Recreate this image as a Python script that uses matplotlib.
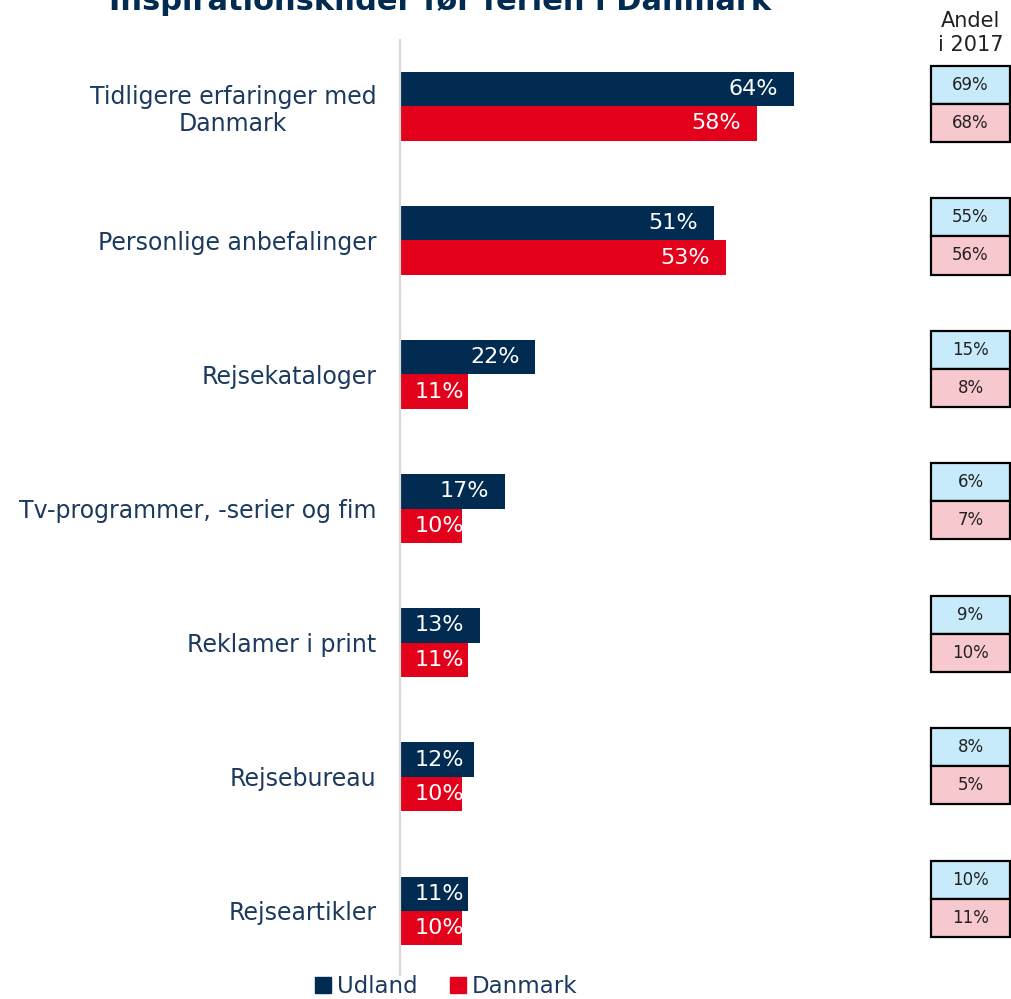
import matplotlib
matplotlib.use("Agg")
import matplotlib.pyplot as plt
from matplotlib.patches import Patch

# data
kategorier = ["Tidligere erfaringer med\nDanmark", "Personlige anbefalinger", "Rejsekataloger",
              "Tv-programmer, -serier og fim", "Reklamer i print", "Rejsebureau", "Rejseartikler"]
udland = [64, 51, 22, 17, 13, 12, 11]
danmark = [58, 53, 11, 10, 11, 10, 10]
udland_2017 = [69, 55, 15, 6, 9, 8, 10]
danmark_2017 = [68, 56, 8, 7, 10, 5, 11]

navy = "#012B50"
red = "#E3001A"
txt = "#1C3A5E"
lightblue = "#C7EBFA"
pink = "#F8C8CF"

fig = plt.figure(figsize=(10.12, 9.99), dpi=100)
W, H = 1012, 999

# main bar axes
ax = fig.add_axes([400 / W, 1 - 975 / H, 431 / W, 935 / H])
n = len(kategorier)
pos = list(range(n))
bh = 0.254
ax.barh([p - bh / 2 for p in pos], udland, height=bh, color=navy)
ax.barh([p + bh / 2 for p in pos], danmark, height=bh, color=red)
ax.set_xlim(0, 70)
ax.set_ylim(6.481, -0.496)

for p, u, d in zip(pos, udland, danmark):
    for v, y in ((u, p - bh / 2), (d, p + bh / 2)):
        if v - 2.6 < 9.5:
            ax.text(2.4, y, f"{v}%", ha="left", va="center", color="white", fontsize=16)
        else:
            ax.text(v - 2.6, y, f"{v}%", ha="right", va="center", color="white", fontsize=16)

ax.set_yticks(pos)
ax.set_yticklabels(kategorier, fontsize=17, color=txt, linespacing=1.15)
for lab in ax.get_yticklabels():
    lab.set_multialignment("center")
ax.tick_params(axis="y", length=0, pad=17)
ax.set_xticks([])
for s in ["top", "right", "bottom"]:
    ax.spines[s].set_visible(False)
ax.spines["left"].set_color("#D9D9D9")
ax.spines["left"].set_linewidth(1.6)

# 2017 boxes
ax2 = fig.add_axes([928 / W, 1 - 975 / H, 85 / W, 935 / H])
ax2.set_xlim(-0.04, 1.04)
ax2.set_ylim(6.574, -0.483)
ax2.axis("off")
boxh = 0.287
for p, u, d in zip(pos, udland_2017, danmark_2017):
    ax2.barh(p - boxh / 2, 1, height=boxh, left=0, color=lightblue, edgecolor="black", linewidth=1.6)
    ax2.barh(p + boxh / 2, 1, height=boxh, left=0, color=pink, edgecolor="black", linewidth=1.6)
    ax2.text(0.5, p - boxh / 2, f"{u}%", ha="center", va="center", fontsize=12, color="#222222")
    ax2.text(0.5, p + boxh / 2, f"{d}%", ha="center", va="center", fontsize=12, color="#222222")
ax2.text(0.5, 1.0075, "Andel\ni 2017", transform=ax2.transAxes, ha="center", va="center",
         fontsize=15, color="#222222", linespacing=1.2)

# title (cut off at the top like the original)
fig.text(440 / W, 1 - 1 / H, "Inspirationskilder før ferien i Danmark", ha="center", va="center",
         fontsize=22, fontweight="bold", color=navy)

# legend
handles = [Patch(color=navy, label="Udland"), Patch(color=red, label="Danmark")]
fig.legend(handles=handles, loc="lower center", bbox_to_anchor=(446 / W, -0.02), ncol=2,
           frameon=False, fontsize=16.5, labelcolor=txt, handlelength=0.7, handleheight=0.7,
           handletextpad=0.25, columnspacing=1.4)

fig.savefig("out.png", dpi=100)
